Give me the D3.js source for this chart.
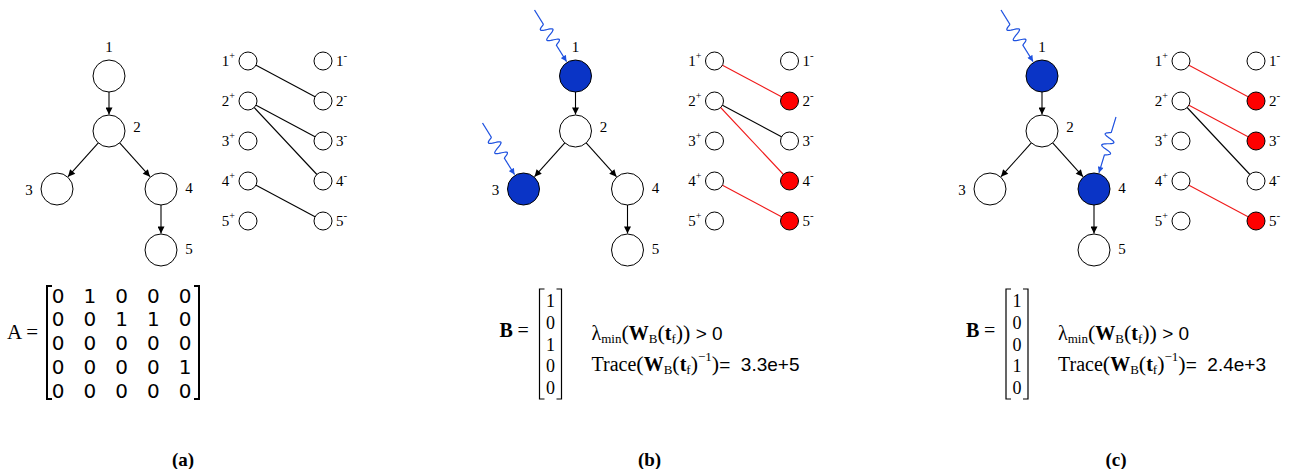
<!DOCTYPE html>
<html><head><meta charset="utf-8">
<script src="https://cdn.jsdelivr.net/npm/d3@7"></script>
<style>body{margin:0;background:#fff}svg{display:block}</style>
</head><body>
<svg id="c" width="1292" height="469"></svg>
<script>
// ---------- data ----------
const nodeIds = [1, 2, 3, 4, 5];
const treeEdges = [[1, 2], [2, 3], [2, 4], [4, 5]];
const matrixA = [
  [0, 1, 0, 0, 0],
  [0, 0, 1, 1, 0],
  [0, 0, 0, 0, 0],
  [0, 0, 0, 0, 1],
  [0, 0, 0, 0, 0]
];
const panelLabels = ["(a)", "(b)", "(c)"];
const drivers = [[], [1, 3], [1, 4]];
const matchedEdges = [[], [[1, 2], [2, 4], [4, 5]], [[1, 2], [2, 3], [4, 5]]];
const bVectors = [null, [1, 0, 1, 0, 0], [1, 0, 0, 1, 0]];
const traceValues = [null, "3.3e+5", "2.4e+3"];

// ---------- setup ----------
const svg = d3.select("#c");
const BLUE = "#0a34c6", RED = "#ff0000", ARROW_BLUE = "#1f52e0", RED_LINE = "#f01818";
const serif = "'Liberation Serif','Times New Roman',serif";
const sans = "'Liberation Sans',Arial,sans-serif";

const panelX = d3.scaleLinear().domain([0, 2]).range([0, 933]);

// tree layout via d3.tree
const root = d3.stratify().id(d => d).parentId(d => {
  const e = treeEdges.find(e => e[1] === d); return e ? e[0] : null;
})(nodeIds);
d3.tree().nodeSize([1, 1])(root);
const xs = [];
root.each(n => xs.push(n.x));
const treeColX = d3.scaleLinear().domain([d3.min(xs), d3.max(xs)]).range([57, 161]);
const treeDepthY = d3.scaleLinear().domain([0, 1, 2, 3]).range([76, 131, 189, 250]);
const pos = {};
root.each(n => { pos[n.data] = { x: treeColX(n.x), y: treeDepthY(n.depth), col: n.x, depth: n.depth }; });
const R = 16;

// bipartite
const bipY = d3.scalePoint().domain(nodeIds).range([61, 221]);
const bipLeftX = 248, bipRightX = 323, r = 9;

// defs
const defs = svg.append("defs");
function marker(id, color, w, h) {
  defs.append("marker").attr("id", id).attr("viewBox", "0 0 10 10")
    .attr("refX", 10).attr("refY", 5).attr("markerWidth", w).attr("markerHeight", h)
    .attr("markerUnits", "userSpaceOnUse").attr("orient", "auto")
    .append("path").attr("d", "M0,0 L10,5 L0,10 Z").attr("fill", color);
}
marker("arrK", "#000", 8, 7);
marker("arrB", ARROW_BLUE, 7, 6);

function squiggle(sx, sy, ex, ey) {
  const dx = ex - sx, dy = ey - sy, L = Math.hypot(dx, dy);
  const ux = dx / L, uy = dy / L, px = -uy, py = ux;
  const pts = [];
  const a0 = 0.28, a1 = 0.68, periods = 2, amp = 5.5;
  for (let i = 0; i <= 120; i++) {
    const t = i / 120;
    let off = 0;
    if (t > a0 && t < a1) off = amp * Math.sin((t - a0) / (a1 - a0) * periods * 2 * Math.PI);
    pts.push([sx + dx * t + px * off, sy + dy * t + py * off]);
  }
  return d3.line()(pts);
}

function rich(g, x, y, parts, anchor) {
  const t = g.append("text").attr("x", x).attr("y", y).attr("fill", "#000");
  if (anchor) t.attr("text-anchor", anchor);
  let cur = 0;
  parts.forEach(p => {
    const shift = p.shift || 0;
    t.append("tspan").text(p.t)
      .attr("font-family", p.f || serif)
      .attr("font-size", p.s || 18)
      .attr("font-weight", p.w || "normal")
      .attr("dy", shift - cur);
    cur = shift;
  });
  return t;
}

function bracket(g, x0, x1, y0, y1, sw) {
  const tk = 5;
  g.append("path").attr("d", `M${x0 + tk},${y0} H${x0} V${y1} H${x0 + tk}`)
    .attr("fill", "none").attr("stroke", "#000").attr("stroke-width", sw);
  g.append("path").attr("d", `M${x1 - tk},${y0} H${x1} V${y1} H${x1 - tk}`)
    .attr("fill", "none").attr("stroke", "#000").attr("stroke-width", sw);
}

panelLabels.forEach((lab, pi) => {
  const g = svg.append("g").attr("transform", `translate(${panelX(pi)},0)`);
  const drv = drivers[pi];
  const matched = matchedEdges[pi];

  // tree edges
  treeEdges.forEach(([a, b]) => {
    const A = pos[a], B = pos[b];
    const dx = B.x - A.x, dy = B.y - A.y, L = Math.hypot(dx, dy);
    g.append("line")
      .attr("x1", A.x + dx / L * R).attr("y1", A.y + dy / L * R)
      .attr("x2", B.x - dx / L * (R + 0.5)).attr("y2", B.y - dy / L * (R + 0.5))
      .attr("stroke", "#000").attr("stroke-width", 1.1).attr("marker-end", "url(#arrK)");
  });
  // tree nodes
  nodeIds.forEach(id => {
    const p = pos[id];
    g.append("circle").attr("cx", p.x).attr("cy", p.y).attr("r", R)
      .attr("fill", drv.includes(id) ? BLUE : "#fff").attr("stroke", "#000").attr("stroke-width", 1);
    let lx, ly;
    if (p.depth === 0) { lx = p.x; ly = p.y - 24; }
    else if (p.col < 0) { lx = p.x - 28; ly = p.y + 6; }
    else { lx = p.x + 28; ly = p.y + (p.depth === 1 ? 1 : 4); }
    g.append("text").attr("x", lx).attr("y", ly).attr("text-anchor", "middle")
      .attr("font-family", serif).attr("font-size", 15).text(id);
  });
  // driver squiggles
  drv.forEach(id => {
    const p = pos[id];
    const sx = p.col > 0 ? p.x + 22 : p.x - 41;
    const sy = p.y - (p.col > 0 ? 72 : 66);
    const dx = sx - p.x, dy = sy - p.y, L = Math.hypot(dx, dy);
    const ex = p.x + dx / L * (R + 1), ey = p.y + dy / L * (R + 1);
    g.append("path").attr("d", squiggle(sx, sy, ex, ey)).attr("fill", "none")
      .attr("stroke", ARROW_BLUE).attr("stroke-width", 1.2).attr("marker-end", "url(#arrB)");
  });

  // bipartite edges
  treeEdges.forEach(([a, b]) => {
    const isM = matched.some(m => m[0] === a && m[1] === b);
    g.append("line").attr("x1", bipLeftX).attr("y1", bipY(a))
      .attr("x2", bipRightX).attr("y2", bipY(b))
      .attr("stroke", isM ? RED_LINE : "#000").attr("stroke-width", 1.1);
  });
  const matchedRight = matched.map(m => m[1]);
  nodeIds.forEach(id => {
    g.append("circle").attr("cx", bipLeftX).attr("cy", bipY(id)).attr("r", r)
      .attr("fill", "#fff").attr("stroke", "#000");
    g.append("circle").attr("cx", bipRightX).attr("cy", bipY(id)).attr("r", r)
      .attr("fill", matchedRight.includes(id) ? RED : "#fff").attr("stroke", "#000");
    rich(g, bipLeftX - 13, bipY(id) + 5, [{ t: String(id), s: 15 }, { t: "+", s: 10, shift: -7 }], "end");
    rich(g, bipRightX + 13, bipY(id) + 5, [{ t: String(id), s: 15 }, { t: "-", s: 11, shift: -7 }]);
  });

  // bottom formulas
  if (pi === 0) {
    const colX = d3.scalePoint().domain(d3.range(5)).range([58, 185]);
    const rowY = d3.scalePoint().domain(d3.range(5)).range([295, 390]);
    g.append("text").attr("x", 7).attr("y", 339).attr("font-family", serif).attr("font-size", 21).text("A =");
    bracket(g, 47, 199, 286, 399, 2);
    matrixA.forEach((row, i) => row.forEach((v, j) => {
      g.append("text").attr("x", colX(j)).attr("y", rowY(i) + 7.5).attr("text-anchor", "middle")
        .attr("font-family", "'DejaVu Sans',Verdana,sans-serif").attr("font-size", 20).text(v);
    }));
  } else {
    const rowY = d3.scalePoint().domain(d3.range(5)).range([301, 388]);
    g.append("text").attr("x", 33).attr("y", 337).attr("font-family", serif).attr("font-size", 20)
      .attr("font-weight", "bold").text("B");
    g.append("text").attr("x", 51).attr("y", 337).attr("font-family", serif).attr("font-size", 20).text("=");
    bracket(g, 73, 95, 289, 399, 1.2);
    bVectors[pi].forEach((v, i) => {
      g.append("text").attr("x", 84).attr("y", rowY(i) + 6).attr("text-anchor", "middle")
        .attr("font-family", serif).attr("font-size", 18).text(v);
    });
    rich(g, 125, 340, [
      { t: "λ", s: 20 }, { t: "min", s: 13, shift: 3 }, { t: "(", s: 22 },
      { t: "W", s: 20, w: "bold" }, { t: "B", s: 13, shift: 3 }, { t: "(", s: 22 },
      { t: "t", s: 20, w: "bold" }, { t: "f", s: 13, shift: 3 }, { t: "))", s: 22 },
      { t: " > 0", s: 19, f: sans }
    ]);
    rich(g, 125, 371, [
      { t: "Trace", s: 20 }, { t: "(", s: 22 },
      { t: "W", s: 20, w: "bold" }, { t: "B", s: 13, shift: 3 }, { t: "(", s: 22 },
      { t: "t", s: 20, w: "bold" }, { t: "f", s: 13, shift: 3 }, { t: ")", s: 22 },
      { t: "−1", s: 13, shift: -10 }, { t: ")", s: 22 }, { t: "=", s: 19, f: sans },
      { t: "\u00a0\u00a0" + traceValues[pi], s: 19, f: sans }
    ]);
  }

  g.append("text").attr("x", 183).attr("y", 466).attr("text-anchor", "middle")
    .attr("font-family", serif).attr("font-size", 19).attr("font-weight", "bold").text(lab);
});
</script>
</body></html>
